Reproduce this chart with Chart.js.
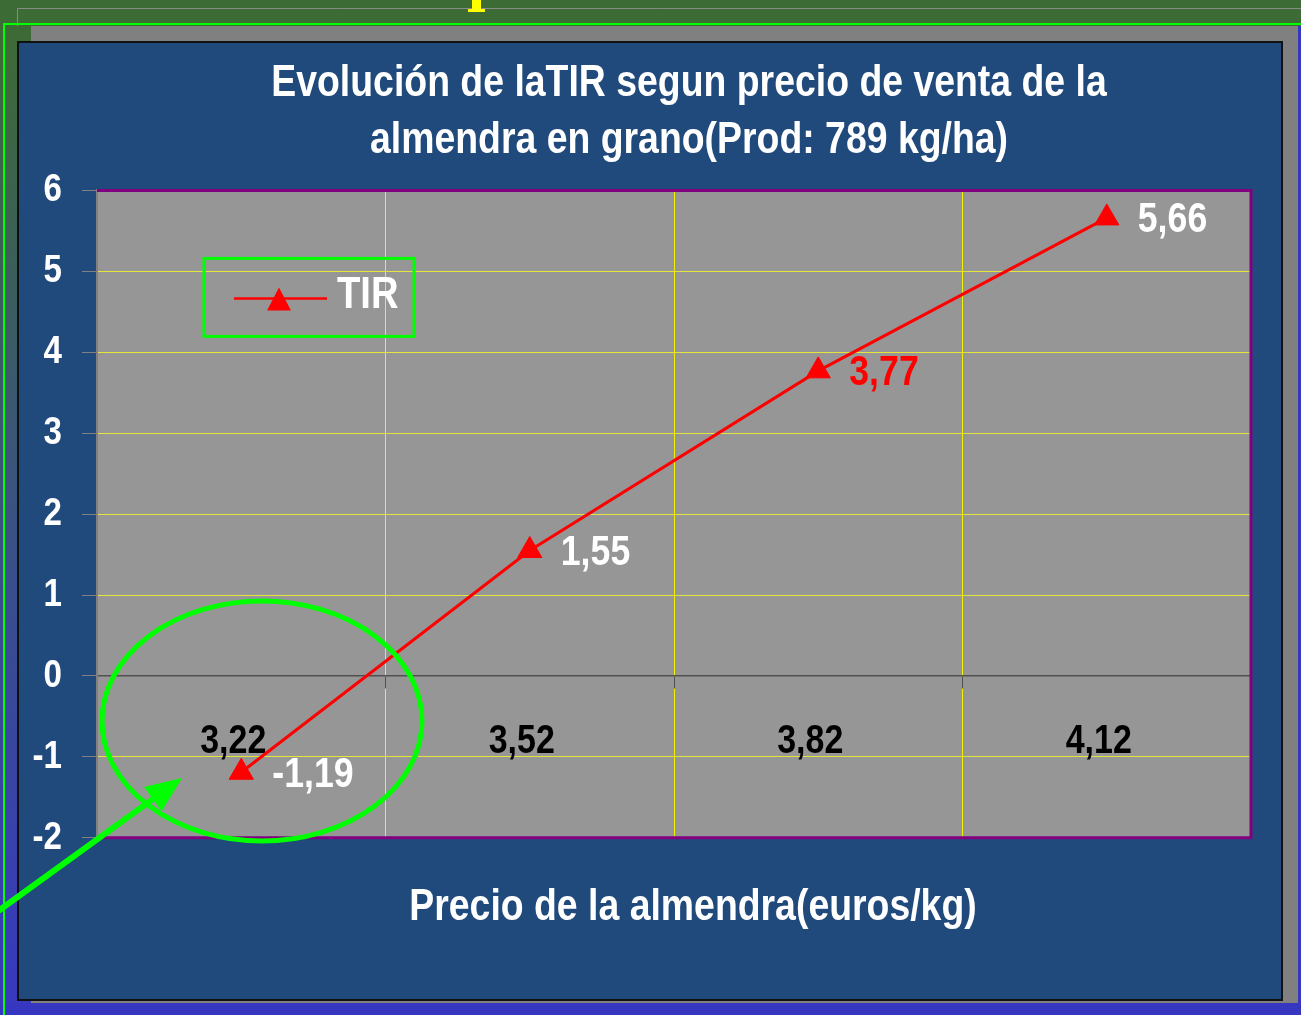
<!DOCTYPE html>
<html>
<head>
<meta charset="utf-8">
<title>Evolución de la TIR</title>
<script src="https://cdn.jsdelivr.net/npm/chart.js@4.4.1/dist/chart.umd.min.js"></script>
<style>
  html, body { margin: 0; padding: 0; background: #3d6b35; overflow: hidden; }
  canvas { display: block; }
</style>
</head>
<body>
<canvas id="tirchart" width="1301" height="1015"></canvas>
<script>
// datos
const precios = ['3,22', '3,52', '3,82', '4,12'];
const tir = [-1.19, 1.55, 3.77, 5.66];
const ejeY = [-2, -1, 0, 1, 2, 3, 4, 5, 6];
const serie = 'TIR';
const titulo = ['Evolución de laTIR segun precio de venta de la', 'almendra en grano(Prod: 789 kg/ha)'];
const tituloEje = 'Precio de la almendra(euros/kg)';

// estilos
const fuente = "'Liberation Sans', Arial, sans-serif";
const estrechez = 0.85; // parecido a Arial Narrow
const colorEtiquetas = ['#ffffff', '#ffffff', '#ff0000', '#ffffff'];
const amarillo = '#e4e43a';
const azul = '#204a7c';

function fmt(v) { return v.toFixed(2).replace('.', ','); }

// fondo de la diapositiva + area del grafico
const fondo = {
  id: 'fondo',
  beforeDraw(chart) {
    const c = chart.ctx, a = chart.chartArea;
    const W = chart.width, H = chart.height;
    c.save();
    c.fillStyle = '#3d6b35';
    c.fillRect(0, 0, W, H);
    // franja izquierda verde -> azul
    let g = c.createLinearGradient(0, 26, 0, H);
    g.addColorStop(0, '#3d6b35');
    g.addColorStop(0.55, '#3a4f8a');
    g.addColorStop(1, '#3838c0');
    c.fillStyle = g;
    c.fillRect(0, 26, 31, H - 26);
    c.fillStyle = '#808080';
    c.fillRect(31, 26, 1267, 977);
    c.fillStyle = '#3636c0';
    c.fillRect(0, 1003, W, 12);
    c.fillRect(1298, 26, 3, H - 26);
    // caja azul
    c.fillStyle = azul;
    c.fillRect(18, 42, 1264, 958);
    c.strokeStyle = '#111';
    c.lineWidth = 2;
    c.strokeRect(18, 42, 1264, 958);
    // lineas de marco
    c.strokeStyle = '#8a8a8a';
    c.lineWidth = 1;
    c.beginPath();
    c.moveTo(17.5, 26); c.lineTo(17.5, 8.5); c.lineTo(W, 8.5);
    c.stroke();
    c.strokeStyle = '#00ff00';
    c.lineWidth = 2;
    c.beginPath();
    c.moveTo(4, H); c.lineTo(4, 24); c.lineTo(W, 24);
    c.stroke();
    // marcador amarillo arriba
    c.fillStyle = '#ffff00';
    c.fillRect(472, 0, 9, 9);
    c.fillRect(468, 9, 17, 3);
    // fondo del area de trazado
    c.fillStyle = '#969696';
    c.fillRect(a.left, a.top, a.right - a.left, a.bottom - a.top);
    c.restore();
  }
};

// borde morado del area de trazado
const marco = {
  id: 'marco',
  beforeDatasetsDraw(chart) {
    const c = chart.ctx, a = chart.chartArea;
    c.save();
    c.strokeStyle = '#800080';
    c.lineWidth = 3;
    c.beginPath();
    c.moveTo(a.left, a.top); c.lineTo(a.right, a.top);
    c.lineTo(a.right, a.bottom); c.lineTo(a.left, a.bottom);
    c.stroke();
    c.restore();
  }
};

// etiquetas de datos
const etiquetas = {
  id: 'etiquetas',
  afterDatasetsDraw(chart) {
    const c = chart.ctx;
    const meta = chart.getDatasetMeta(0);
    c.save();
    c.font = 'bold 42px ' + fuente;
    c.textAlign = 'left';
    c.textBaseline = 'middle';
    meta.data.forEach((p, i) => {
      c.fillStyle = colorEtiquetas[i];
      c.fillText(fmt(chart.data.datasets[0].data[i]), p.x + 31, p.y + 3);
    });
    c.restore();
  }
};

// leyenda dentro del area de trazado
const leyenda = {
  id: 'leyenda',
  afterDraw(chart) {
    const c = chart.ctx, a = chart.chartArea;
    const ds = chart.data.datasets[0];
    const x = a.left + 107, y = a.top + 68;
    c.save();
    c.strokeStyle = '#00ff00';
    c.lineWidth = 3;
    c.strokeRect(x, y, 210, 78);
    const ly = y + 40;
    c.strokeStyle = ds.borderColor;
    c.lineWidth = 2.5;
    c.beginPath();
    c.moveTo(x + 30, ly); c.lineTo(x + 123, ly);
    c.stroke();
    c.fillStyle = ds.backgroundColor;
    c.beginPath();
    c.moveTo(x + 75, ly - 11); c.lineTo(x + 87, ly + 12); c.lineTo(x + 63, ly + 12);
    c.closePath();
    c.fill();
    c.fillStyle = '#ffffff';
    c.font = 'bold 45px ' + fuente;
    c.textBaseline = 'middle';
    c.fillText(ds.label, x + 133, ly - 3);
    c.restore();
  }
};

// elipse y flecha verdes
const anotacion = {
  id: 'anotacion',
  afterDraw(chart) {
    const c = chart.ctx;
    c.save();
    c.strokeStyle = '#00ff00';
    c.fillStyle = '#00ff00';
    c.lineWidth = 5;
    c.beginPath();
    c.ellipse(262, 721, 160, 120, 0, 0, Math.PI * 2);
    c.stroke();
    const tx = 182, ty = 778, ang = Math.atan2(ty - 910, tx - 0);
    const cs = Math.cos(ang), sn = Math.sin(ang);
    c.lineWidth = 6;
    c.beginPath();
    c.moveTo(-10, 917);
    c.lineTo(tx - 28 * cs, ty - 28 * sn);
    c.stroke();
    c.beginPath();
    c.moveTo(tx, ty);
    c.lineTo(tx - 36 * cs + 15 * sn, ty - 36 * sn - 15 * cs);
    c.lineTo(tx - 36 * cs - 15 * sn, ty - 36 * sn + 15 * cs);
    c.closePath();
    c.fill();
    c.restore();
  }
};

// desplazar los titulos un poco a la derecha, como en el original
const centrado = {
  id: 'centrado',
  afterLayout(chart) {
    chart.boxes.forEach(b => {
      if (!b.options || b.options.text === undefined) return;
      const dx = b.options.text === tituloEje ? 19 : 15;
      b.left += dx; b.right += dx;
    });
  }
};

// texto estrecho: Arial comprimida horizontalmente respecto a su punto de anclaje
const estrecho = {
  id: 'estrecho',
  beforeDraw(chart) {
    const orig = CanvasRenderingContext2D.prototype.fillText;
    chart.ctx.fillText = function (t, x, y, m) {
      this.save();
      this.translate(x, y);
      this.scale(estrechez, 1);
      if (m === undefined) orig.call(this, t, 0, 0);
      else orig.call(this, t, 0, 0, m / estrechez);
      this.restore();
    };
  },
  afterDraw(chart) { delete chart.ctx.fillText; }
};

const ctx = document.getElementById('tirchart').getContext('2d');
const grafico = new Chart(ctx, {
  type: 'line',
  data: {
    labels: precios,
    datasets: [{
      label: serie,
      data: tir,
      borderColor: '#ff0000',
      backgroundColor: '#ff0000',
      borderWidth: 3,
      pointStyle: 'triangle',
      pointRadius: 14,
      pointHoverRadius: 14,
      pointBackgroundColor: '#ff0000',
      pointBorderColor: '#ff0000',
      pointBorderWidth: 1,
      tension: 0,
      clip: false
    }]
  },
  options: {
    responsive: false,
    animation: false,
    events: [],
    layout: { padding: { left: 20, top: 44, right: 50, bottom: 15 } },
    scales: {
      x: {
        type: 'category',
        position: { y: 0 },
        offset: true,
        grid: { offset: true, color: '#f0f000', lineWidth: 1, tickLength: 12, tickColor: '#505050' },
        border: { color: '#505050', width: 1.5 },
        ticks: { color: '#000000', font: { family: fuente, size: 40, weight: 'bold' }, padding: 30, labelOffset: -8, maxRotation: 0 }
      },
      y: {
        min: ejeY[0],
        max: ejeY[ejeY.length - 1],
        afterBuildTicks(scale) { scale.ticks = ejeY.map(v => ({ value: v })); },
        afterFit(scale) { scale.width = 77; },
        grid: {
          color: c => c.tick && c.tick.value === 0 ? 'rgba(0,0,0,0)' : amarillo,
          lineWidth: 1,
          tickLength: 15,
          tickColor: '#808080'
        },
        border: { color: '#808080', width: 2 },
        ticks: { color: '#ffffff', font: { family: fuente, size: 39, weight: 'bold' }, padding: 20 }
      }
    },
    plugins: {
      legend: { display: false },
      tooltip: { enabled: false },
      title: {
        display: true,
        text: titulo,
        color: '#ffffff',
        fullSize: false,
        font: { family: fuente, size: 44, weight: 'bold', lineHeight: 1.3 },
        padding: { top: 11, bottom: 21 }
      },
      subtitle: {
        display: true,
        position: 'bottom',
        text: tituloEje,
        color: '#ffffff',
        fullSize: false,
        font: { family: fuente, size: 44, weight: 'bold', lineHeight: 1.3 },
        padding: { top: 41, bottom: 64 }
      }
    }
  },
  plugins: [fondo, marco, etiquetas, leyenda, anotacion, centrado, estrecho]
});
</script>
</body>
</html>
